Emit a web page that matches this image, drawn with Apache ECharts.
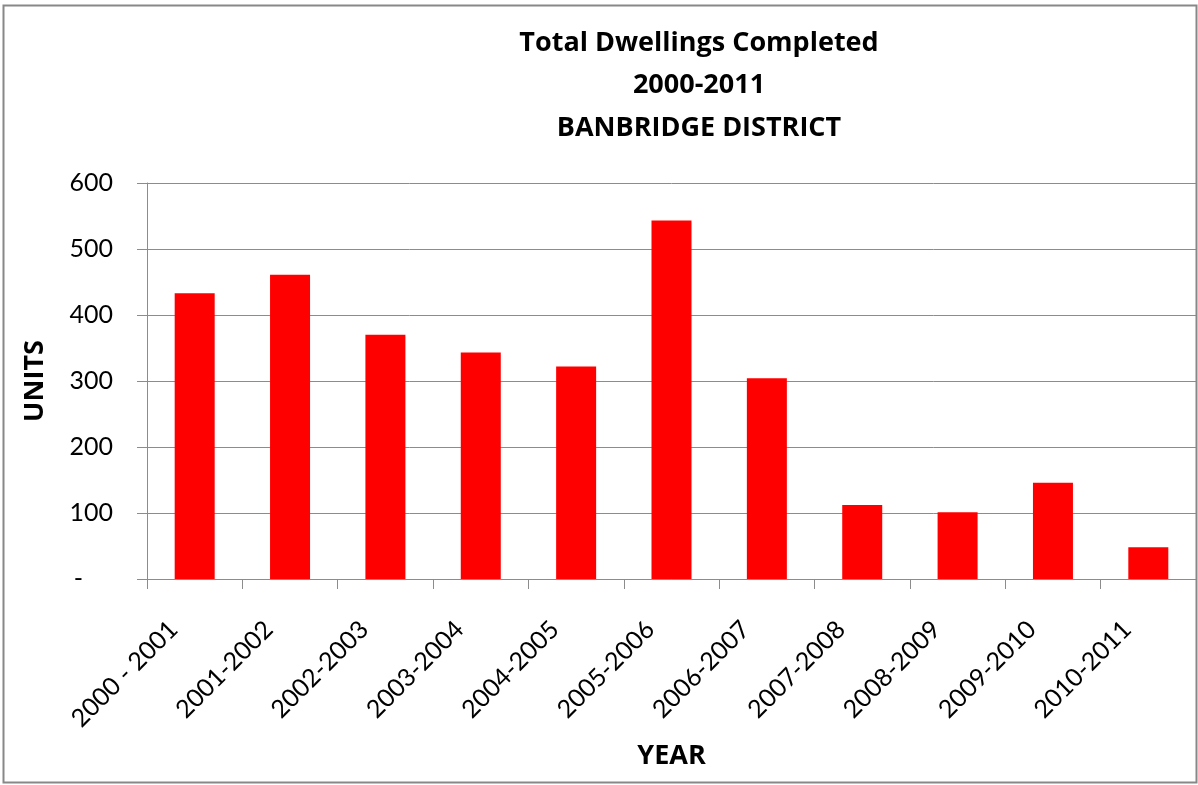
<!DOCTYPE html>
<html>
<head>
<meta charset="utf-8">
<script src="https://cdn.jsdelivr.net/npm/echarts@6/dist/echarts.min.js"></script>
<style>
html,body{margin:0;padding:0;background:#fff;}
#chart{width:1198px;height:785px;}
</style>
</head>
<body>
<div id="chart"></div>
<script>
const categories = ['2000 - 2001','2001-2002','2002-2003','2003-2004','2004-2005','2005-2006','2006-2007','2007-2008','2008-2009','2009-2010','2010-2011'];
const units = [433, 461, 370, 343, 322, 543, 304, 112, 101, 146, 48];
const titleLines = ['Total Dwellings Completed', '2000-2011', 'BANBRIDGE DISTRICT'];
const yAxisName = 'UNITS';
const xAxisName = 'YEAR';

const FONT = 'Lato';
const BOLD = 'Open Sans';
const chart = echarts.init(document.getElementById('chart'));
chart.setOption({
  backgroundColor: '#fff',
  animation: false,
  title: {
    text: titleLines.join('\n'),
    left: 694,
    textAlign: 'center',
    top: 17,
    textStyle: {fontFamily: BOLD, fontWeight: 'bold', fontSize: 27, lineHeight: 42.5, color: '#000'}
  },
  grid: {left: 147, right: 2, top: 183, bottom: 206, containLabel: false},
  xAxis: {
    type: 'category',
    data: categories,
    boundaryGap: true,
    name: xAxisName,
    nameLocation: 'middle',
    nameGap: 164,
    nameTextStyle: {fontFamily: BOLD, fontWeight: 'bold', fontSize: 27, color: '#000', verticalAlign: 'top'},
    axisLine: {lineStyle: {color: '#8c8c8c', width: 1}},
    axisTick: {show: true, length: 10, lineStyle: {color: '#8c8c8c'}},
    axisLabel: {rotate: 45, interval: 0, margin: 25, padding: [0, 30, 0, 0], fontFamily: FONT, fontSize: 25, color: '#000'}
  },
  yAxis: {
    type: 'value',
    min: 0, max: 600, interval: 100,
    name: yAxisName,
    nameLocation: 'middle',
    nameGap: 98,
    nameRotate: 90,
    nameTextStyle: {fontFamily: BOLD, fontWeight: 'bold', fontSize: 27, color: '#000'},
    axisLine: {show: true, lineStyle: {color: '#8c8c8c', width: 1}},
    axisTick: {show: true, length: 10, lineStyle: {color: '#8c8c8c'}},
    splitLine: {lineStyle: {color: '#8c8c8c', width: 1}},
    axisLabel: {
      margin: 34,
      fontFamily: FONT, fontSize: 25, color: '#000',
      formatter: v => v === 0 ? '{d|-}' : String(v),
      rich: {d: {fontFamily: FONT, fontSize: 25, color: '#000', padding: [0, 30, 0, 0]}}
    }
  },
  graphic: [{
    type: 'rect',
    shape: {x: 3.5, y: 5.5, width: 1193, height: 777},
    style: {fill: 'none', stroke: '#888', lineWidth: 2},
    silent: true,
    z: 100
  }],
  series: [{
    type: 'bar',
    data: units,
    barWidth: 40,
    itemStyle: {color: '#ff0000'}
  }]
});
</script>
</body>
</html>
